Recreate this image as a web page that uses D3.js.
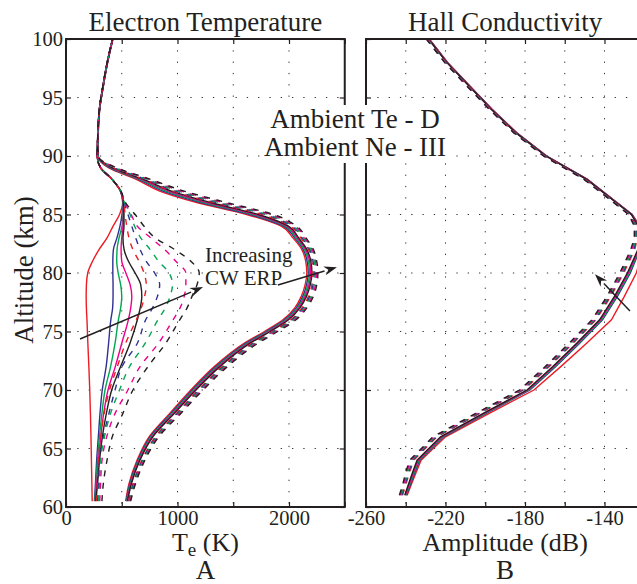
<!DOCTYPE html>
<html><head><meta charset="utf-8">
<script src="https://cdn.jsdelivr.net/npm/d3@7"></script>
<style>
body{margin:0;background:#fff}
svg{display:block}
text{font-family:"Liberation Serif","Times New Roman",serif;fill:#231f20}
</style>
</head><body>
<svg id="c" width="637" height="584"></svg>
<script>
// ---------------- DATA ----------------
// Panel A: electron temperature (K) vs altitude (km)
const altLow = [60.5, 62, 64, 66, 68, 70, 72, 74, 76, 77, 78, 79, 80, 81, 82, 83, 84, 85, 86, 87, 88, 89, 90, 92, 94, 96, 98, 100];
const teLowRed      = [235, 232, 228, 224, 219, 213, 205, 196, 188, 183, 181, 183, 195, 238, 296, 368, 422, 480, 508, 488, 412, 308, 281, 288, 301, 333, 371, 419];
const teLowBlue     = [255, 264, 275, 290, 305, 325, 360, 382, 402, 418, 422, 422, 420, 420, 425, 457, 484, 502, 511, 489, 413, 309, 280, 287, 300, 332, 370, 418];
const teLowGreen    = [259, 270, 283, 300, 322, 350, 400, 440, 470, 490, 500, 490, 468, 455, 458, 476, 502, 511, 513, 489, 413, 309, 280, 287, 300, 332, 370, 418];
const teLowMagenta  = [263, 276, 291, 312, 338, 377, 442, 500, 559, 580, 590, 575, 537, 500, 494, 500, 511, 514, 515, 490, 414, 310, 280, 287, 300, 332, 370, 418];
const teLowBlack    = [268, 283, 301, 326, 362, 410, 490, 574, 640, 665, 680, 670, 620, 560, 521, 511, 520, 520, 516, 490, 414, 310, 279, 286, 299, 331, 369, 417];
const teLowRedD     = [275, 282, 290, 312, 342, 390, 460, 535, 630, 675, 705, 720, 700, 655, 600, 565, 545, 530, 518, 490, 414, 310, 280, 287, 300, 332, 370, 418];
const teLowBlueD    = [284, 292, 302, 335, 385, 440, 502, 640, 715, 775, 820, 840, 795, 720, 665, 625, 590, 556, 522, 490, 414, 310, 280, 287, 300, 332, 370, 418];
const teLowGreenD   = [293, 300, 310, 345, 400, 480, 570, 711, 825, 890, 933, 955, 925, 830, 755, 670, 615, 575, 526, 490, 414, 310, 280, 287, 300, 332, 370, 418];
const teLowMagentaD = [303, 310, 323, 365, 440, 555, 664, 830, 960, 1022, 1060, 1075, 1075, 985, 885, 760, 640, 585, 530, 491, 414, 310, 280, 287, 300, 332, 370, 418];
const teLowBlackD   = [322, 335, 368, 415, 510, 600, 735, 895, 1020, 1085, 1130, 1175, 1195, 1120, 975, 800, 700, 620, 535, 492, 414, 310, 279, 286, 299, 331, 369, 417];

const altHigh = [60.5, 62, 64, 66, 68, 70, 72, 74, 75, 76, 77, 78, 79, 80, 81, 82, 83, 84, 85, 86, 87, 88, 89, 90, 92, 94, 96, 98, 100];
const teHighRed      = [535, 565, 637, 745, 930, 1120, 1330, 1600, 1780, 1945, 2050, 2110, 2145, 2160, 2150, 2115, 2035, 1930, 1620, 1180, 840, 630, 380, 285, 290, 303, 336, 374, 421];
const teHighBlue     = [540, 572, 645, 755, 942, 1133, 1344, 1615, 1795, 1960, 2064, 2124, 2158, 2173, 2163, 2128, 2050, 1950, 1650, 1215, 870, 650, 390, 286, 289, 302, 335, 373, 420];
const teHighGreen    = [544, 577, 651, 763, 952, 1144, 1356, 1628, 1808, 1972, 2075, 2135, 2169, 2184, 2174, 2139, 2062, 1965, 1675, 1245, 895, 665, 398, 287, 289, 302, 335, 373, 420];
const teHighMagenta  = [548, 582, 657, 771, 962, 1155, 1368, 1640, 1820, 1984, 2086, 2146, 2180, 2195, 2185, 2150, 2074, 1980, 1700, 1275, 920, 680, 405, 288, 288, 301, 334, 372, 419];
const teHighBlack    = [552, 587, 663, 779, 972, 1166, 1380, 1652, 1832, 1996, 2097, 2157, 2191, 2206, 2196, 2161, 2086, 1995, 1725, 1305, 945, 695, 412, 289, 288, 301, 334, 372, 419];
const teHighRedD     = [560, 600, 680, 800, 990, 1185, 1400, 1670, 1850, 2015, 2115, 2175, 2205, 2215, 2205, 2175, 2105, 2010, 1760, 1330, 960, 700, 420, 288, 287, 300, 333, 371, 418];
const teHighBlueD    = [565, 606, 687, 808, 1000, 1196, 1412, 1683, 1862, 2027, 2126, 2186, 2216, 2226, 2216, 2186, 2117, 2025, 1785, 1360, 985, 715, 428, 287, 287, 300, 333, 371, 418];
const teHighGreenD   = [570, 612, 694, 816, 1010, 1207, 1424, 1696, 1874, 2039, 2137, 2197, 2227, 2237, 2227, 2197, 2129, 2040, 1810, 1390, 1010, 730, 436, 286, 286, 299, 332, 370, 417];
const teHighMagentaD = [575, 618, 701, 824, 1020, 1218, 1436, 1709, 1886, 2051, 2148, 2208, 2238, 2248, 2238, 2208, 2141, 2055, 1835, 1420, 1035, 745, 444, 285, 286, 299, 332, 370, 417];
const teHighBlackD   = [580, 624, 708, 832, 1030, 1229, 1448, 1722, 1898, 2063, 2159, 2219, 2249, 2259, 2249, 2219, 2153, 2070, 1860, 1450, 1060, 760, 452, 284, 285, 298, 331, 369, 416];

// Panel B: Hall conductivity amplitude (dB) vs altitude (km)
const altHall = [61, 62, 63, 64, 66, 68, 70, 72, 74, 76, 78, 80, 82, 83, 84, 85, 86, 88, 90, 92, 94, 96, 98, 100];
const hallRed      = [-239.3, -237, -234.7, -232.3, -220, -198, -175.5, -162, -149, -136.5, -130, -124, -120.5, -120.5, -122, -126, -133.5, -148.5, -169, -184.2, -196.5, -207.8, -218.9, -228.1];
const hallBlue     = [-239.6, -237.5, -235.3, -233, -221, -199.5, -177.5, -164.5, -152.5, -141, -133.5, -127, -122.2, -121.3, -122.5, -126.2, -133.7, -148.7, -169.2, -184.4, -196.7, -208, -219.1, -228.3];
const hallGreen    = [-239.9, -237.8, -235.7, -233.4, -221.5, -200, -178, -165, -153, -141.5, -134, -127.5, -122.5, -121.5, -122.6, -126.3, -133.8, -148.8, -169.3, -184.5, -196.8, -208.1, -219.2, -228.4];
const hallMagenta  = [-240.2, -238.1, -236.1, -233.8, -222, -200.5, -178.5, -165.5, -153.5, -142, -134.5, -128, -122.8, -121.7, -122.8, -126.4, -133.9, -148.9, -169.4, -184.6, -196.9, -208.2, -219.3, -228.5];
const hallBlack    = [-240.5, -238.5, -236.5, -234.3, -222.5, -201, -179, -166, -154, -142.5, -135, -128.5, -123.2, -122, -123, -126.5, -134, -149, -169.5, -184.7, -197, -208.3, -219.4, -228.6];
const hallRedD     = [-241.6, -239.8, -238, -236, -224.3, -202.8, -180.8, -167.8, -155.8, -144.3, -136.8, -130.3, -124.8, -123.4, -123.8, -127.1, -134.5, -149.5, -169.9, -185, -197.3, -208.6, -219.7, -228.9];
const hallBlueD    = [-242, -240.2, -238.5, -236.5, -224.8, -203.3, -181.3, -168.3, -156.3, -144.8, -137.3, -130.8, -125.3, -123.8, -124.1, -127.3, -134.7, -149.7, -170.1, -185.2, -197.5, -208.8, -219.9, -229.1];
const hallGreenD   = [-242.4, -240.6, -239, -237, -225.3, -203.8, -181.8, -168.8, -156.8, -145.3, -137.8, -131.3, -125.8, -124.2, -124.4, -127.5, -134.9, -149.9, -170.3, -185.4, -197.7, -209, -220.1, -229.3];
const hallMagentaD = [-242.8, -241, -239.5, -237.5, -225.8, -204.3, -182.3, -169.3, -157.3, -145.8, -138.3, -131.8, -126.3, -124.6, -124.7, -127.7, -135.1, -150.1, -170.5, -185.6, -197.9, -209.2, -220.3, -229.5];
const hallBlackD   = [-243.2, -241.4, -240, -238, -226.3, -204.8, -182.8, -169.8, -157.8, -146.3, -138.8, -132.3, -126.8, -125, -125, -127.9, -135.3, -150.3, -170.7, -185.8, -198.1, -209.4, -220.5, -229.7];

// Ticks
const altTicks = [60, 65, 70, 75, 80, 85, 90, 95, 100];
const teTicks = [0, 500, 1000, 1500, 2000, 2500];
const teLabelTicks = [0, 1000, 2000];
const ampTicks = [-260, -240, -220, -200, -180, -160, -140, -120];
const ampLabelTicks = [-260, -220, -180, -140];

// ---------------- STYLE ----------------
const colors = ["#ed1c24", "#2e3192", "#00a651", "#ec008c", "#231f20"];
const ink = "#231f20";

const svg = d3.select("#c");
const xL = d3.scaleLinear().domain([0, 2500]).range([66, 344.75]);
const xR = d3.scaleLinear().domain([-260, -120]).range([366, 644.25]);
const y = d3.scaleLinear().domain([60, 100]).range([507, 39]);

const defs = svg.append("defs");
defs.append("clipPath").attr("id", "clipL").append("rect")
  .attr("x", xL(0)).attr("y", y(100)).attr("width", xL(2500) - xL(0)).attr("height", y(60) - y(100));
defs.append("clipPath").attr("id", "clipR").append("rect")
  .attr("x", xR(-260)).attr("y", y(100)).attr("width", xR(-120) - xR(-260)).attr("height", y(60) - y(100));

// grid
function grid(x, xs) {
  const g = svg.append("g").attr("stroke", "#333").attr("stroke-width", 1).attr("stroke-dasharray", "1.3,10");
  const [x0, x1] = x.domain();
  g.selectAll(null).data(xs.filter(d => d !== x0 && d !== x1)).join("line")
    .attr("x1", d => x(d)).attr("x2", d => x(d)).attr("y1", y(100)).attr("y2", y(60));
  g.selectAll(null).data(altTicks.filter(d => d !== 60 && d !== 100)).join("line")
    .attr("x1", x(x0)).attr("x2", Math.min(x(x1), 637)).attr("y1", d => y(d)).attr("y2", d => y(d));
}
grid(xL, teTicks);
grid(xR, ampTicks);

// curves
const lineL = d3.line().curve(d3.curveMonotoneY);
const lineR = d3.line();
function drawSet(g, x, alts, series, dashed, line) {
  series.forEach((s, i) => {
    g.append("path")
      .attr("d", line(alts.map((a, k) => [x(s[k]), y(a)])))
      .attr("fill", "none").attr("stroke", colors[i]).attr("stroke-width", 1.4)
      .attr("stroke-dasharray", dashed ? "6,6.5" : null);
  });
}
const gL = svg.append("g").attr("clip-path", "url(#clipL)");
drawSet(gL, xL, altLow, [teLowRed, teLowBlue, teLowGreen, teLowMagenta, teLowBlack], false, lineL);
drawSet(gL, xL, altHigh, [teHighRed, teHighBlue, teHighGreen, teHighMagenta, teHighBlack], false, lineL);
drawSet(gL, xL, altLow, [teLowRedD, teLowBlueD, teLowGreenD, teLowMagentaD, teLowBlackD], true, lineL);
drawSet(gL, xL, altHigh, [teHighRedD, teHighBlueD, teHighGreenD, teHighMagentaD, teHighBlackD], true, lineL);

const gR = svg.append("g").attr("clip-path", "url(#clipR)");
drawSet(gR, xR, altHall, [hallRed, hallBlue, hallGreen, hallMagenta, hallBlack], false, lineR);
drawSet(gR, xR, altHall, [hallRedD, hallBlueD, hallGreenD, hallMagentaD, hallBlackD], true, lineR);

// axes
function styleAxis(g) {
  g.select(".domain").remove();
  g.selectAll(".tick line").attr("stroke", ink).attr("stroke-width", 1.2);
  g.selectAll("text").attr("font-family", "Liberation Serif, Times New Roman, serif").attr("font-size", 20.5).attr("fill", ink);
}
function ticksOnly(g) { g.select(".domain").remove(); g.selectAll("text").remove(); g.selectAll(".tick line").attr("stroke", ink).attr("stroke-width", 1.2); }
// Panel A
svg.append("g").attr("transform", `translate(${xL(0)},0)`)
  .call(d3.axisLeft(y).tickValues(altTicks).tickSize(-5).tickPadding(3).tickFormat(d => String(d))).call(styleAxis);
svg.append("g").attr("transform", `translate(${xL(2500)},0)`)
  .call(d3.axisRight(y).tickValues(altTicks).tickSize(-5)).call(ticksOnly);
svg.append("g").attr("transform", `translate(0,${y(60)})`)
  .call(d3.axisBottom(xL).tickValues(teTicks).tickSize(-5)).call(ticksOnly);
svg.append("g").attr("transform", `translate(0,${y(60)})`)
  .call(d3.axisBottom(xL).tickValues(teLabelTicks).tickSize(0).tickPadding(3).tickFormat(d => String(d))).call(styleAxis);
svg.append("g").attr("transform", `translate(0,${y(100)})`)
  .call(d3.axisTop(xL).tickValues(teTicks).tickSize(-5)).call(ticksOnly);
// Panel B
svg.append("g").attr("transform", `translate(${xR(-260)},0)`)
  .call(d3.axisLeft(y).tickValues(altTicks).tickSize(-5)).call(ticksOnly);
svg.append("g").attr("transform", `translate(0,${y(60)})`)
  .call(d3.axisBottom(xR).tickValues(ampTicks).tickSize(-5)).call(ticksOnly);
svg.append("g").attr("transform", `translate(0,${y(60)})`)
  .call(d3.axisBottom(xR).tickValues(ampLabelTicks).tickSize(0).tickPadding(3).tickFormat(d => String(d))).call(styleAxis);
svg.append("g").attr("transform", `translate(0,${y(100)})`)
  .call(d3.axisTop(xR).tickValues(ampTicks).tickSize(-5)).call(ticksOnly);

// frames
svg.append("rect").attr("x", xL(0)).attr("y", y(100)).attr("width", xL(2500) - xL(0)).attr("height", y(60) - y(100))
  .attr("fill", "none").attr("stroke", ink).attr("stroke-width", 2);
svg.append("rect").attr("x", xR(-260)).attr("y", y(100)).attr("width", xR(-120) - xR(-260)).attr("height", y(60) - y(100))
  .attr("fill", "none").attr("stroke", ink).attr("stroke-width", 2);

// titles and labels
const cxL = (xL(0) + xL(2500)) / 2, cxR = (xR(-260) + xR(-120)) / 2;
svg.append("text").attr("x", cxL).attr("y", 31).attr("text-anchor", "middle").attr("font-size", 27).text("Electron Temperature");
svg.append("text").attr("x", cxR).attr("y", 31).attr("text-anchor", "middle").attr("font-size", 27).text("Hall Conductivity");
svg.append("text").attr("transform", `translate(33,${(y(60) + y(100)) / 2 - 3}) rotate(-90)`).attr("text-anchor", "middle")
  .attr("font-size", 27).text("Altitude (km)");
const tx = svg.append("text").attr("x", cxL).attr("y", 551).attr("text-anchor", "middle").attr("font-size", 26);
tx.append("tspan").text("T");
tx.append("tspan").attr("font-size", 19).attr("dy", 5).text("e");
tx.append("tspan").attr("dy", -5).text(" (K)");
svg.append("text").attr("x", cxR).attr("y", 551).attr("text-anchor", "middle").attr("font-size", 26).text("Amplitude (dB)");
svg.append("text").attr("x", cxL).attr("y", 579).attr("text-anchor", "middle").attr("font-size", 27).text("A");
svg.append("text").attr("x", cxR).attr("y", 579).attr("text-anchor", "middle").attr("font-size", 27).text("B");

// annotation text with white backgrounds
function boxedText(lines, x, y0, lh, fs, anchor) {
  const g = svg.append("g");
  const rect = g.append("rect").attr("fill", "#fff");
  const t = g.append("text").attr("font-size", fs).attr("text-anchor", anchor);
  lines.forEach((s, i) => t.append("tspan").attr("x", x).attr("y", y0 + i * lh).text(s));
  const b = t.node().getBBox();
  rect.attr("x", b.x - 2).attr("y", b.y + 1).attr("width", b.width + 4).attr("height", b.height);
}
boxedText(["Ambient Te - D", "Ambient Ne - III"], 355, 128, 28, 27, "middle");
boxedText(["Increasing", "CW ERP"], 205, 262, 23, 21, "start");

// arrows (annotation positions in data units)
const arrowsA = [
  { from: [126, 74.36], to: [1229, 78.8] },
  { from: [1901, 78.97], to: [2430, 80.5] }
];
const arrowsB = [{ from: [-127.2, 76.75], to: [-144.8, 79.9] }];
function drawArrow(x, a) {
  const x1 = x(a.from[0]), y1 = y(a.from[1]), x2 = x(a.to[0]), y2 = y(a.to[1]);
  const ang = Math.atan2(y2 - y1, x2 - x1), L = 13, W = 4.5;
  const bx = x2 - L * Math.cos(ang), by = y2 - L * Math.sin(ang);
  svg.append("line").attr("x1", x1).attr("y1", y1).attr("x2", bx).attr("y2", by)
    .attr("stroke", ink).attr("stroke-width", 1.5);
  const p = [[x2, y2],
    [bx + W * Math.sin(ang), by - W * Math.cos(ang)],
    [x2 - (L - 4) * Math.cos(ang), y2 - (L - 4) * Math.sin(ang)],
    [bx - W * Math.sin(ang), by + W * Math.cos(ang)]];
  svg.append("path").attr("d", "M" + p.map(q => q.join(",")).join("L") + "Z").attr("fill", ink);
}
arrowsA.forEach(a => drawArrow(xL, a));
arrowsB.forEach(a => drawArrow(xR, a));
</script>
</body></html>
